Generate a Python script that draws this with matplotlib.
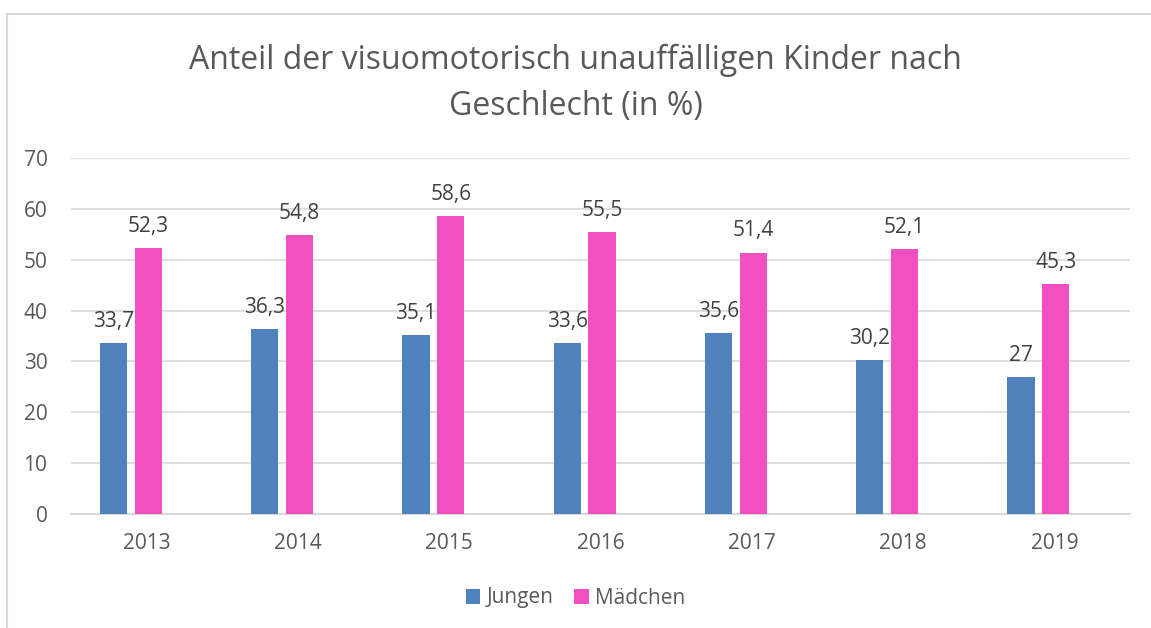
import numpy as np
import matplotlib.pyplot as plt
from matplotlib.lines import Line2D

# Data
years = ["2013", "2014", "2015", "2016", "2017", "2018", "2019"]
jungen = [33.7, 36.3, 35.1, 33.6, 35.6, 30.2, 27]
maedchen = [52.3, 54.8, 58.6, 55.5, 51.4, 52.1, 45.3]
series_names = ["Jungen", "Mädchen"]

BLUE = "#4f81bd"
PINK = "#f050c0"
TEXT = "#595959"
GRID = "#d9d9d9"

plt.rcParams["font.family"] = ["Open Sans", "DejaVu Sans"]


def fmt(v):
    # German decimal comma, integers without decimals
    if float(v).is_integer():
        return str(int(v))
    return f"{v:.1f}".replace(".", ",")


def main():
    fig = plt.figure(figsize=(11.51, 6.28), dpi=100, facecolor="white")
    ax = fig.add_axes([71 / 1151, 1 - 514 / 628, (1130 - 71) / 1151, (514 - 158) / 628])

    x = np.arange(len(years))
    w = 0.18
    b1 = ax.bar(x - 0.22, jungen, width=w, color=BLUE, label=series_names[0], zorder=3)
    b2 = ax.bar(x + 0.01, maedchen, width=w, color=PINK, label=series_names[1], zorder=3)

    for bars, vals in ((b1, jungen), (b2, maedchen)):
        for rect, v in zip(bars, vals):
            ax.annotate(fmt(v), (rect.get_x() + rect.get_width() / 2, v),
                        xytext=(0, 8), textcoords="offset points",
                        ha="center", va="bottom", fontsize=15, color="#404040")

    ax.set_xlim(-0.5, len(years) - 0.5)
    ax.set_ylim(0, 70)
    ax.set_yticks(range(0, 71, 10))
    ax.set_xticks(x)
    ax.set_xticklabels(years)
    ax.yaxis.grid(True, color=GRID, lw=1.2, zorder=0)
    ax.set_axisbelow(True)
    for side in ("top", "right", "left"):
        ax.spines[side].set_visible(False)
    ax.spines["bottom"].set_color(GRID)
    ax.spines["bottom"].set_linewidth(1.5)
    ax.tick_params(axis="both", length=0, labelsize=15, colors=TEXT)
    ax.tick_params(axis="x", pad=14)
    ax.tick_params(axis="y", pad=17)

    fig.text(0.5, 1 - 60 / 628, "Anteil der visuomotorisch unauffälligen Kinder nach",
             ha="center", va="center", fontsize=23, color=TEXT)
    fig.text(0.5, 1 - 106 / 628, "Geschlecht (in %)",
             ha="center", va="center", fontsize=23, color=TEXT)

    fig.legend(handles=[b1, b2], labels=series_names, loc="center",
               bbox_to_anchor=(0.5, 1 - 598 / 628), ncol=2, frameon=False,
               fontsize=15, labelcolor=TEXT, handlelength=0.7, handleheight=0.7,
               handletextpad=0.3, columnspacing=1.0)

    # chart frame (left and top edges visible in the reference)
    fig.add_artist(Line2D([7 / 1151, 7 / 1151], [0, 1 - 14 / 628],
                          transform=fig.transFigure, color=GRID, lw=1.5))
    fig.add_artist(Line2D([7 / 1151, 1], [1 - 14 / 628, 1 - 14 / 628],
                          transform=fig.transFigure, color=GRID, lw=1.5))

    fig.savefig("out.png", dpi=100, facecolor="white")


if __name__ == "__main__":
    main()
